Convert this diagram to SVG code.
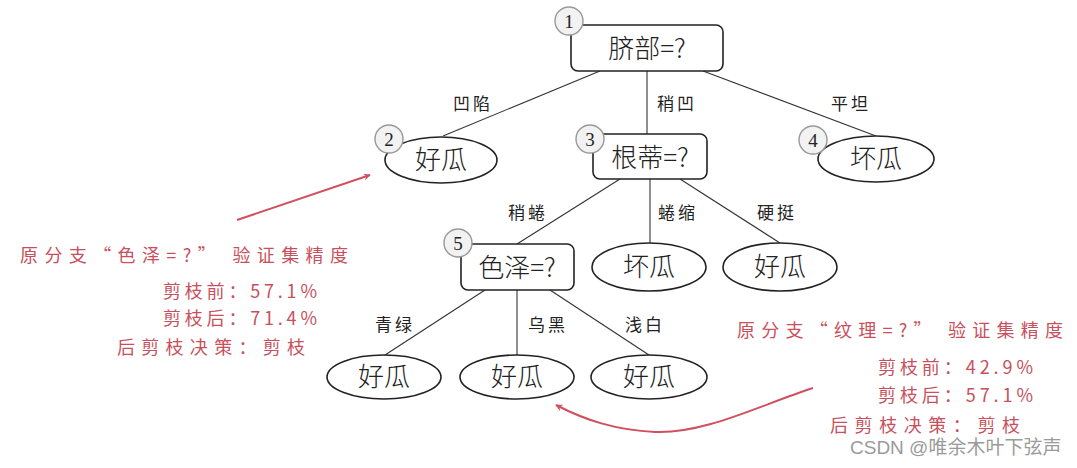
<svg xmlns="http://www.w3.org/2000/svg" width="1077" height="468" viewBox="0 0 1077 468">
<style>
.box{fill:#fff;stroke:#222;stroke-width:1.6}
.leaf{fill:#fff;stroke:#222;stroke-width:1.6}
.num{fill:#f2f2f2;stroke:#999;stroke-width:1.4}
.numt{font-family:"Liberation Serif",serif;font-size:19px;fill:#222;text-anchor:middle}
.nt{font-family:"Noto Sans CJK SC",sans-serif;font-size:26px;fill:#222;text-anchor:middle;font-weight:300}
.el{font-family:"Noto Sans CJK SC",sans-serif;font-size:17px;fill:#222;text-anchor:middle;letter-spacing:3px}
.edge{stroke:#333;stroke-width:1.1;fill:none}
.red{font-family:"Noto Sans CJK SC",sans-serif;font-size:18px;fill:#c8505c}
.ra{stroke:#d05060;stroke-width:2;fill:none}
</style>
<defs>
<marker id="ah" viewBox="0 0 10 10" refX="9" refY="5" markerWidth="7" markerHeight="7" orient="auto" markerUnits="userSpaceOnUse">
<path d="M0,0 L10,5 L0,10 L3,5 z" fill="#d05060"/>
</marker>
</defs>
<rect width="1077" height="468" fill="#fff"/>
<g id="connectors">
<line class="edge" x1="600" y1="71" x2="443" y2="136"/>
<line class="edge" x1="647" y1="71" x2="647" y2="134"/>
<line class="edge" x1="703" y1="71" x2="876" y2="136"/>
<line class="edge" x1="620" y1="179" x2="517" y2="244"/>
<line class="edge" x1="650" y1="179" x2="650" y2="243"/>
<line class="edge" x1="680" y1="179" x2="780" y2="243"/>
<line class="edge" x1="485" y1="290" x2="385" y2="355"/>
<line class="edge" x1="517" y1="290" x2="517" y2="355"/>
<line class="edge" x1="550" y1="290" x2="649" y2="355"/>
<text class="el" x="473" y="110">凹陷</text>
<text class="el" x="677" y="110">稍凹</text>
<text class="el" x="851" y="110">平坦</text>
<text class="el" x="528" y="219">稍蜷</text>
<text class="el" x="678" y="219">蜷缩</text>
<text class="el" x="777" y="219">硬挺</text>
<text class="el" x="395" y="331">青绿</text>
<text class="el" x="548" y="331">乌黑</text>
<text class="el" x="645" y="331">浅白</text>
</g>
<g id="n1">
<rect class="box" x="571" y="25" width="152" height="46" rx="7"/>
<text class="nt" x="647" y="58">脐部=?</text>
<circle class="num" cx="569" cy="21" r="14"/>
<text class="numt" x="569" y="28">1</text>
</g>
<g id="n2">
<ellipse class="leaf" cx="441" cy="160" rx="56" ry="23"/>
<text class="nt" x="441" y="169">好瓜</text>
<circle class="num" cx="389" cy="139" r="14"/>
<text class="numt" x="389" y="146">2</text>
</g>
<g id="n3">
<rect class="box" x="593" y="134" width="114" height="45" rx="7"/>
<text class="nt" x="650" y="167">根蒂=?</text>
<circle class="num" cx="590" cy="139" r="14"/>
<text class="numt" x="590" y="146">3</text>
</g>
<g id="n4">
<ellipse class="leaf" cx="876" cy="159" rx="58" ry="23"/>
<text class="nt" x="876" y="168">坏瓜</text>
<circle class="num" cx="813" cy="140" r="14"/>
<text class="numt" x="813" y="147">4</text>
</g>
<g id="n5">
<rect class="box" x="461" y="244" width="113" height="46" rx="7"/>
<text class="nt" x="517" y="277">色泽=?</text>
<circle class="num" cx="458" cy="243" r="14"/>
<text class="numt" x="458" y="250">5</text>
</g>
<g id="n6">
<ellipse class="leaf" cx="649" cy="267" rx="57" ry="24"/>
<text class="nt" x="649" y="276">坏瓜</text>
</g>
<g id="n7">
<ellipse class="leaf" cx="780" cy="267" rx="57" ry="24"/>
<text class="nt" x="780" y="276">好瓜</text>
</g>
<g id="n8">
<ellipse class="leaf" cx="384" cy="377" rx="57" ry="22"/>
<text class="nt" x="384" y="386">好瓜</text>
</g>
<g id="n9">
<ellipse class="leaf" cx="517" cy="377" rx="57" ry="22"/>
<text class="nt" x="517" y="386">好瓜</text>
</g>
<g id="n10">
<ellipse class="leaf" cx="649" cy="377" rx="58" ry="22"/>
<text class="nt" x="649" y="386">好瓜</text>
</g>
<g id="annot-left">
<line class="ra" x1="237" y1="220" x2="370" y2="175" marker-end="url(#ah)"/>
<text class="red" x="20" y="262" textLength="328" lengthAdjust="spacing">原分支“色泽=?” 验证集精度</text>
<text class="red" x="163" y="298" textLength="154" lengthAdjust="spacing">剪枝前：57.1%</text>
<text class="red" x="163" y="325" textLength="154" lengthAdjust="spacing">剪枝后：71.4%</text>
<text class="red" x="117" y="354" textLength="188" lengthAdjust="spacing">后剪枝决策：剪枝</text>
</g>
<g id="annot-right">
<path class="ra" d="M813,388 C760,405 705,434 655,432 C615,430 585,420 556,405" marker-end="url(#ah)"/>
<text class="red" x="737" y="337" textLength="326" lengthAdjust="spacing">原分支“纹理=?” 验证集精度</text>
<text class="red" x="878" y="374" textLength="155" lengthAdjust="spacing">剪枝前：42.9%</text>
<text class="red" x="878" y="402" textLength="155" lengthAdjust="spacing">剪枝后：57.1%</text>
<text class="red" x="830" y="432" textLength="190" lengthAdjust="spacing">后剪枝决策：剪枝</text>
<text x="850" y="454" font-family="Liberation Sans, Noto Sans CJK SC, sans-serif" font-size="19" fill="#9a9a9a">CSDN @唯余木叶下弦声</text>
</g>
</svg>
